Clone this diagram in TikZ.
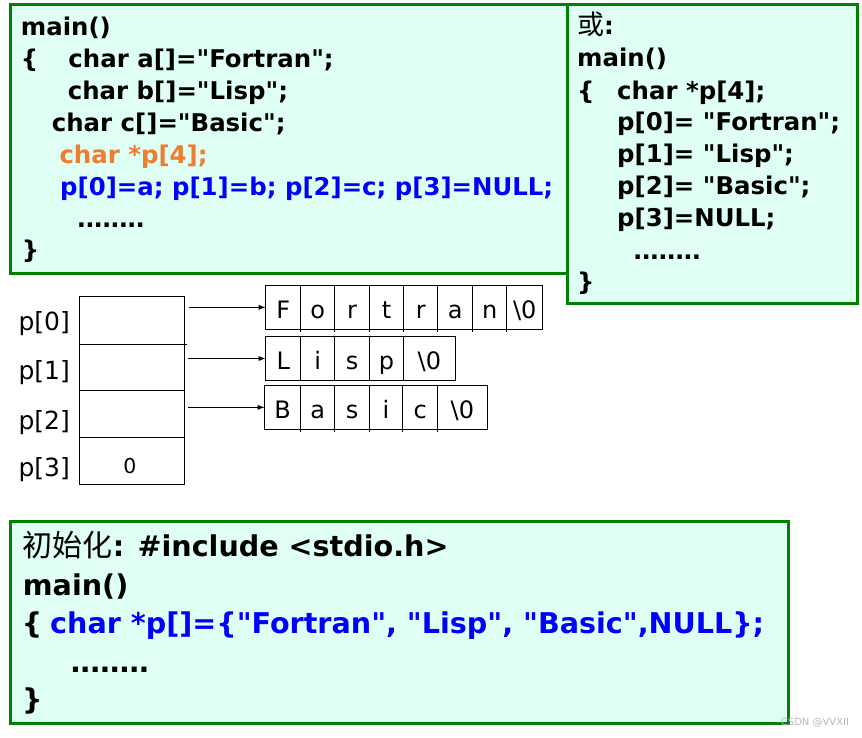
\documentclass[tikz,border=0pt]{standalone}
\usepackage{fontspec}
\newfontfamily\codefnt{DejaVu Sans}[Ligatures=TeXOff]
\newfontfamily\cjkfnt{Noto Sans CJK SC}
\usetikzlibrary{arrows.meta}
\definecolor{codegreen}{RGB}{0,128,0}
\definecolor{codefill}{RGB}{224,255,244}
\definecolor{codeorange}{RGB}{237,125,49}
\definecolor{codeblue}{RGB}{0,0,255}
\definecolor{wmgray}{RGB}{185,185,185}
\newcommand\dts[1]{.\kern#1.\kern#1.\kern#1.\kern#1.\kern#1.\kern#1.\kern#1.}
\begin{document}
\begin{tikzpicture}[x=1pt,y=-1pt,
 codebox/.style={draw=codegreen,fill=codefill,line width=3pt},
 codeline/.style={anchor=base west,inner sep=0pt,font=\codefnt\bfseries\fontsize{24.4}{29}\selectfont},
 bigline/.style={anchor=base west,inner sep=0pt,font=\codefnt\bfseries\fontsize{28.6}{34}\selectfont},
 idxlabel/.style={anchor=base west,inner sep=0pt,font=\codefnt\fontsize{25}{30}\selectfont},
 pcell/.style={draw,line width=0.9pt,minimum width=104.7pt,inner sep=0pt,outer sep=0pt},
 ccell/.style={draw,line width=0.9pt,inner sep=0pt,outer sep=0pt,minimum height=43.4pt,text height=24pt,text depth=2pt,font=\codefnt\fontsize{24}{29}\selectfont},
 tick/.style={line width=0.9pt},
 ptr/.style={line width=0.9pt,-{Latex[length=7pt,width=5pt]}},
]
\useasboundingbox (0,0) rectangle (862,737);

% ---- box 1
\draw[codebox] (10.5,4.5) rectangle (620,273);
\node[codeline] (a1) at (20.7,35.7) {main()};
\node[codeline] (a2) at (20.7,67) {\makebox[47.6pt][l]{\{}char a[]="Fortran";};
\node[codeline] (a3) at (67.7,99.5) {char b[]="Lisp";};
\node[codeline] (a4) at (51.7,131.5) {char c[]="Basic";};
\node[codeline,text=codeorange] (a5) at (59.3,163.5) {char *p[4];};
\node[codeline,text=codeblue] (a6) at (60,195.3) {p[0]=a; p[1]=b; p[2]=c; p[3]=NULL;};
\node[codeline] (a7) at (76.7,227.5) {\dts{-0.9pt}};
\node[codeline] (a8) at (21.7,258) {\}};

% ---- box 2
\draw[codebox] (567.5,4.5) rectangle (857,303.5);
\node[codeline] (b1) at (577,34) {{\cjkfnt\mdseries\fontsize{27}{32}\selectfont 或}:};
\node[codeline] (b2) at (577,66.7) {main()};
\node[codeline] (b3) at (577,99.3) {\makebox[40pt][l]{\{}char *p[4];};
\node[codeline] (b4) at (617,130.5) {p[0]= "Fortran";};
\node[codeline] (b5) at (617,162.5) {p[1]= "Lisp";};
\node[codeline] (b6) at (617,194.5) {p[2]= "Basic";};
\node[codeline] (b7) at (617,226.7) {p[3]=NULL;};
\node[codeline] (b8) at (633,259) {\dts{-0.9pt}};
\node[codeline] (b9) at (577,290) {\}};

% ---- pointer array
\node[pcell,minimum height=48pt] (pc0) at (131.65,320) {};
\node[pcell,minimum height=46pt] (pc1) at (131.65,367) {};
\node[pcell,minimum height=47pt] (pc2) at (131.65,413.5) {};
\node[pcell,minimum height=47pt] (pc3) at (131.65,460.5) {};
\draw[tick] (pc0.south east) -- ++(2.7,0);
\node[anchor=base,inner sep=0pt,font=\codefnt\fontsize{20.5}{24}\selectfont] (zero) at (130,473) {0};

\node[idxlabel] (l0) at (18.3,330) {p[0]};
\node[idxlabel] (l1) at (18.3,379) {p[1]};
\node[idxlabel] (l2) at (18.3,429) {p[2]};
\node[idxlabel] (l3) at (18.3,476) {p[3]};

% ---- strings
\node[ccell,minimum width=35pt] (f1) at (283.2,307.35) {F};
\node[ccell,minimum width=34pt] (f2) at (317.7,307.35) {o};
\node[ccell,minimum width=34.6pt] (f3) at (352,307.35) {r};
\node[ccell,minimum width=34.4pt] (f4) at (386.5,307.35) {t};
\node[ccell,minimum width=34pt] (f5) at (420.7,307.35) {r};
\node[ccell,minimum width=35pt] (f6) at (455.2,307.35) {a};
\node[ccell,minimum width=34pt] (f7) at (489.7,307.35) {n};
\node[ccell,minimum width=36pt] (f8) at (524.7,307.35) {\textbackslash 0};
\foreach \c in {f2,f3,f4,f5,f6,f7,f8} \draw[tick] (\c.south west) -- ++(0,3);

\node[ccell,minimum width=35pt,minimum height=43.6pt] (s1) at (283.2,358.5) {L};
\node[ccell,minimum width=34pt,minimum height=43.6pt] (s2) at (317.7,358.5) {i};
\node[ccell,minimum width=34.6pt,minimum height=43.6pt] (s3) at (352,358.5) {s};
\node[ccell,minimum width=34.4pt,minimum height=43.6pt] (s4) at (386.5,358.5) {p};
\node[ccell,minimum width=51.3pt,minimum height=43.6pt] (s5) at (429.35,358.5) {\textbackslash 0};

\node[ccell,minimum width=36pt] (c1) at (282.7,407.35) {B};
\node[ccell,minimum width=34pt] (c2) at (317.7,407.35) {a};
\node[ccell,minimum width=34.6pt] (c3) at (352,407.35) {s};
\node[ccell,minimum width=33.4pt] (c4) at (386,407.35) {i};
\node[ccell,minimum width=35pt] (c5) at (420.2,407.35) {c};
\node[ccell,minimum width=49.3pt] (c6) at (462.35,407.35) {\textbackslash 0};
\foreach \c in {c2,c3,c4,c5,c6} \draw[tick] (\c.south west) -- ++(0,3);

\path (pc0.east |- f1.west) coordinate (st0);
\path (pc1.east |- s1.west) coordinate (st1);
\path (pc2.east |- c1.west) coordinate (st2);
\draw[ptr] ([xshift=5pt]st0) -- (f1.west);
\draw[ptr] ([xshift=4pt]st1) -- (s1.west);
\draw[ptr] ([xshift=4pt]st2) -- (c1.west);

% ---- box 3
\draw[codebox] (10,521.5) rectangle (788.7,723.7);
\node[bigline] (d1) at (22.7,556) {{\cjkfnt\mdseries\fontsize{30}{36}\selectfont 初始化}: \#include <stdio.h>};
\node[bigline] (d2) at (22.7,595) {main()};
\node[bigline] (d3) at (21.7,633) {\makebox[28.3pt][l]{\{}\textcolor{codeblue}{char *p[]=\{"Fortran", "Lisp", "Basic",NULL\};}};
\node[bigline] (d4) at (70,672) {\dts{-1.1pt}};
\node[bigline] (d5) at (22,709) {\}};

\node[inner sep=0pt,text=wmgray,font=\codefnt\fontsize{10}{12}\selectfont] (wm) at (815,722.5) {CSDN @VVXII};
\end{tikzpicture}
\end{document}
